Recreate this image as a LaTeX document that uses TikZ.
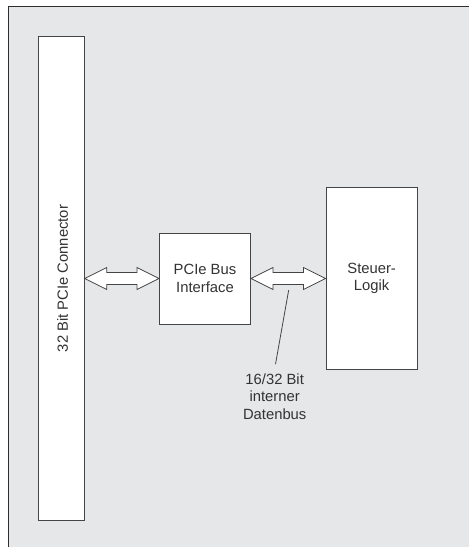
\documentclass[tikz,border=0pt]{standalone}
\usepackage{fontspec}
\setmainfont{Liberation Sans}
\usetikzlibrary{calc}
\definecolor{bggray}{HTML}{E6E7E9}
\definecolor{framecol}{HTML}{2E2E2E}
\definecolor{boxcol}{HTML}{454545}
\definecolor{txtcol}{HTML}{333333}
\newcommand\busarrow[2]{%
  \draw[busarr] (#1) -- ($(#1)+(22,11)$) -- ($(#1)+(22,6)$) -- ($(#2)+(-22,6)$)
    -- ($(#2)+(-22,11)$) -- (#2) -- ($(#2)+(-22,-11)$) -- ($(#2)+(-22,-6)$)
    -- ($(#1)+(22,-6)$) -- ($(#1)+(22,-11)$) -- cycle;}
\begin{document}
\begin{tikzpicture}[x=1pt,y=1pt,
  block/.style={draw=boxcol, fill=white, line width=0.9pt, inner sep=0pt,
    text=txtcol, align=center, font=\fontsize{14.8}{17.5}\selectfont},
  busarr/.style={draw=boxcol, fill=white, line width=0.8pt, line join=miter},
  lbl/.style={text=txtcol, align=center, inner sep=0pt,
    font=\fontsize{14.8}{17.5}\selectfont}]
\useasboundingbox (0,0) rectangle (469,547);
\fill[white] (0,0) rectangle (469,547);
\fill[bggray] (8.3,0) rectangle (469,540.7);
\draw[framecol, line width=1pt] (8.3,0) -- (8.3,540.7) -- (469,540.7);
% blocks
\node[block, minimum width=45.6, minimum height=484.3] (bar) at (61.5,268.55) {};
\node[lbl, rotate=90] (bartxt) at (62.6,268.5) {32 Bit PCIe Connector};
\node[block, minimum width=91, minimum height=91] (pb) at (205,268.5) {PCIe Bus\\Interface};
\node[block, minimum width=91.3, minimum height=181.6] (sl) at (371.65,268.5) {Steuer-\\Logik};
% bus arrows
\busarrow{bar.east |- pb.west}{pb.west}
\busarrow{pb.east}{sl.west |- pb.east}
% label
\node[lbl, anchor=north] (bus) at (274.7,173.8) {16/32 Bit\\interner\\Datenbus};
\coordinate (tap) at (288.7,257);
\draw[boxcol, line width=0.8pt] ($(bus.north)+(0.8,9)$) -- (tap);
\end{tikzpicture}
\end{document}
